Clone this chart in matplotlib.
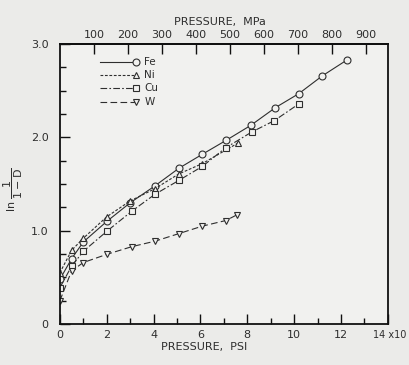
import numpy as np
import matplotlib
matplotlib.use("Agg")
import matplotlib.pyplot as plt
from matplotlib.ticker import MultipleLocator, FixedLocator

# data (pressure in psi x 10^4)
fe_x = [0, 0.5, 1, 2, 3, 4.05, 5.08, 6.08, 7.1, 8.15, 9.2, 10.2, 11.2, 12.25]
fe_y = [0.48, 0.70, 0.88, 1.10, 1.30, 1.48, 1.67, 1.82, 1.97, 2.13, 2.32, 2.47, 2.66, 2.83]

ni_x = [0, 0.5, 1, 2, 3, 4.05, 5.08, 6.08, 7.6]
ni_y = [0.55, 0.79, 0.92, 1.15, 1.32, 1.45, 1.61, 1.72, 1.94]

cu_x = [0, 0.5, 1, 2.03, 3.07, 4.05, 5.08, 6.08, 7.08, 8.2, 9.15, 10.2]
cu_y = [0.39, 0.62, 0.78, 1.00, 1.21, 1.39, 1.54, 1.69, 1.89, 2.06, 2.18, 2.36]

w_x = [0, 0.5, 1, 2.03, 3.07, 4.08, 5.08, 6.08, 7.08, 7.55]
w_y = [0.25, 0.57, 0.66, 0.75, 0.83, 0.89, 0.97, 1.05, 1.11, 1.17]

metals = ["Fe", "Ni", "Cu", "W"]
markers = ["o", "^", "s", "v"]
styles = ["-", (0, (2.5, 1.5)), (0, (6, 2, 1.5, 2)), (0, (6, 3))]

mpa_ticks = [100, 200, 300, 400, 500, 600, 700, 800, 900]
psi_ticks = [0, 2, 4, 6, 8, 10, 12]

ink = "#2e2e2e"
paper = "#f1f1ef"

plt.rcParams["font.family"] = "DejaVu Sans"
plt.rcParams["mathtext.fontset"] = "dejavusans"

fig = plt.figure(figsize=(4.10, 3.65), dpi=100, facecolor="#ebebe9")
ax = fig.add_axes([0.146, 0.112, 0.800, 0.767], facecolor=paper)

series = [(fe_x, fe_y), (ni_x, ni_y), (cu_x, cu_y), (w_x, w_y)]
for (xs, ys), mk, ls in zip(series, markers, styles):
    ax.plot(xs, ys, linestyle=ls, color=ink, lw=0.8, marker=mk, ms=5,
            mfc=paper, mec=ink, mew=0.8)

ax.set_xlim(0, 14)
ax.set_ylim(0, 3.0)

for s in ax.spines.values():
    s.set_color("#111111")
    s.set_linewidth(1.3)

ax.xaxis.set_major_locator(FixedLocator(psi_ticks + [14]))
ax.xaxis.set_minor_locator(MultipleLocator(1))
ax.set_xticklabels([str(t) for t in psi_ticks] + [""])
ax.yaxis.set_major_locator(FixedLocator([0, 1, 2, 3]))
ax.yaxis.set_minor_locator(MultipleLocator(0.25))
ax.set_yticklabels(["0", "1.0", "2.0", "3.0"])
ax.tick_params(which="major", direction="in", length=7, width=1.0,
               colors="#111111", labelcolor=ink, labelsize=8)
ax.tick_params(which="minor", direction="in", length=4, width=1.0, colors="#111111")
ax.tick_params(axis="x", which="both", top=False, pad=4)
ax.tick_params(axis="y", pad=8)

ax.text(13.35, -0.022, "14 x10", transform=ax.get_xaxis_transform(),
        ha="left", va="top", fontsize=7, color=ink)

ax.set_xlabel("PRESSURE,  PSI", fontsize=8, color=ink)
ax.xaxis.set_label_coords(0.44, -0.065)
ax.set_ylabel(r"ln $\mathregular{\dfrac{1}{1-D}}$", fontsize=8, color=ink)
ax.yaxis.set_label_coords(-0.105, 0.48)

# top axis in MPa
top = ax.secondary_xaxis("top", functions=(lambda x: x * 68.9476, lambda m: m / 68.9476))
top.set_xticks(mpa_ticks)
top.set_xticklabels([str(t) for t in mpa_ticks])
top.tick_params(direction="in", length=7, width=1.0, colors="#111111",
                labelcolor=ink, labelsize=8, pad=3)
top.spines["top"].set_linewidth(1.3)
fig.text(0.537, 0.94, "PRESSURE,  MPa", ha="center", va="center",
         fontsize=8, color=ink)

# hand-drawn style legend: line then marker then label
leg_y = [0.936, 0.889, 0.843, 0.793]
for name, mk, ls, yy in zip(metals, markers, styles, leg_y):
    ax.plot([0.122, 0.232], [yy, yy], transform=ax.transAxes, linestyle=ls,
            color=ink, lw=0.8)
    ax.plot([0.232], [yy], transform=ax.transAxes, marker=mk, ms=5,
            mfc=paper, mec=ink, mew=0.8)
    ax.text(0.258, yy, name, transform=ax.transAxes, ha="left", va="center",
            fontsize=7.5, color=ink)

fig.savefig("out.png", dpi=100, facecolor=fig.get_facecolor())
